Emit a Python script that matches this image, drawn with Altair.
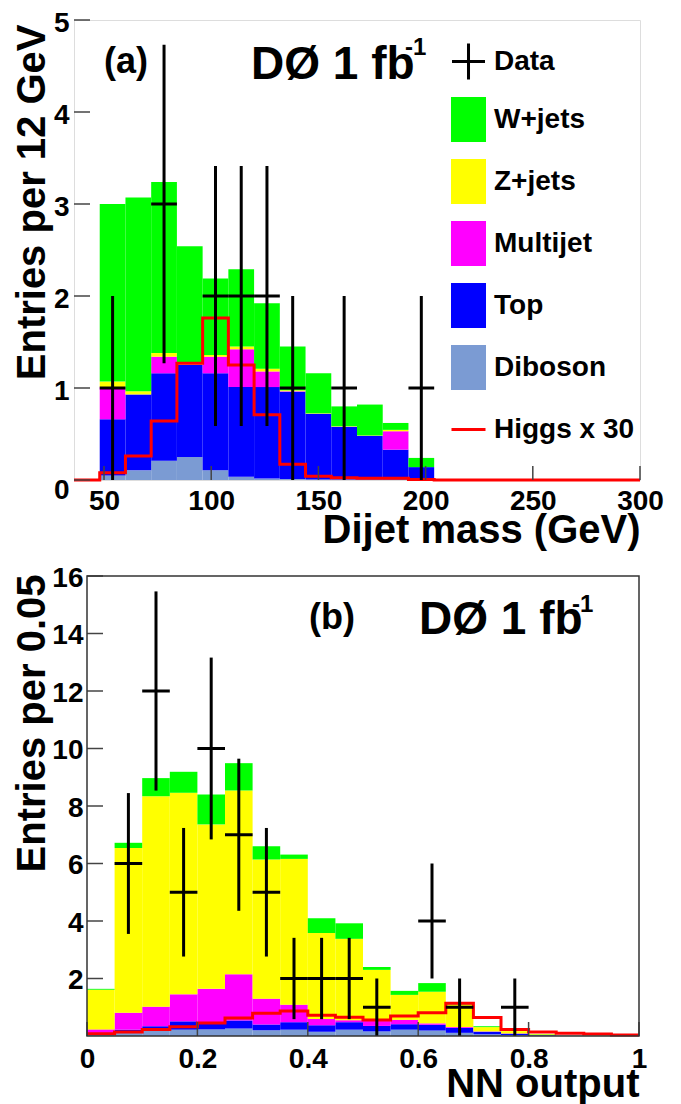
import altair as alt
import numpy as np
import pandas as pd

FONT = "Liberation Sans"

# ---------------- panel (a): dijet mass ----------------
mass_bin_lo = [48, 60, 72, 84, 96, 108, 120, 132, 144, 156, 168, 180, 192]
mass_bin_w = 12
diboson_a = [0.05, 0.105, 0.21, 0.25, 0.105, 0.036, 0.015, 0.01, 0.005, 0.005, 0.005, 0.005, 0.005]
top_a = [0.61, 0.825, 0.95, 1.00, 1.055, 0.974, 0.995, 0.95, 0.715, 0.575, 0.475, 0.325, 0.135]
multijet_a = [0.35, 0.0, 0.18, 0.005, 0.18, 0.41, 0.17, 0.005, 0.0, 0.0, 0.0, 0.20, 0.0]
zjets_a = [0.06, 0.035, 0.04, 0.01, 0.02, 0.03, 0.03, 0.01, 0.005, 0.005, 0.005, 0.015, 0.0]
wjets_a = [1.93, 2.105, 1.86, 1.275, 0.83, 0.84, 0.71, 0.475, 0.435, 0.215, 0.335, 0.075, 0.10]
higgs_a_lo = [36, 48, 60, 72, 84, 96, 108, 120, 132, 144, 156, 168, 180, 192, 204, 216,
              228, 240, 252, 264, 276, 288]
higgs_a = [0.0, 0.08, 0.26, 0.64, 1.27, 1.76, 1.25, 0.71, 0.17, 0.04, 0.025, 0.02, 0.02,
           0.005, 0.0, 0.0, 0.0, 0.0, 0.0, 0.0, 0.0, 0.0]
data_a_x = [54, 78, 102, 114, 126, 138, 162, 198]
data_a_n = [1, 3, 2, 2, 2, 1, 1, 1]
mass_xticks = [50, 100, 150, 200, 250, 300]
mass_yticks = [0, 1, 2, 3, 4, 5]

# ---------------- panel (b): NN output ----------------
nn_bin_lo = [0.00, 0.05, 0.10, 0.15, 0.20, 0.25, 0.30, 0.35, 0.40, 0.45,
             0.50, 0.55, 0.60, 0.65, 0.70, 0.75, 0.80, 0.85, 0.90, 0.95]
nn_bin_w = 0.05
diboson_b = [0.05, 0.15, 0.20, 0.22, 0.23, 0.26, 0.20, 0.22, 0.15, 0.22,
             0.16, 0.22, 0.19, 0.11, 0.06, 0.03, 0.01, 0.0, 0.0, 0.0]
top_b = [0.04, 0.07, 0.14, 0.29, 0.22, 0.28, 0.20, 0.26, 0.22, 0.26,
         0.19, 0.19, 0.20, 0.17, 0.09, 0.05, 0.02, 0.01, 0.0, 0.0]
multijet_b = [0.14, 0.59, 0.68, 0.94, 1.19, 1.61, 0.90, 0.61, 0.22, 0.07,
              0.17, 0.15, 0.05, 0.03, 0.01, 0.01, 0.0, 0.0, 0.0, 0.0]
zjets_b = [1.38, 5.73, 7.32, 7.01, 5.72, 6.39, 4.84, 5.07, 2.99, 2.83,
           1.78, 0.87, 1.10, 0.79, 0.15, 0.08, 0.03, 0.01, 0.01, 0.0]
wjets_b = [0.03, 0.18, 0.63, 0.73, 1.04, 0.95, 0.46, 0.15, 0.52, 0.54,
           0.10, 0.14, 0.30, 0.02, 0.03, 0.0, 0.01, 0.0, 0.0, 0.0]
higgs_b = [0.08, 0.14, 0.23, 0.32, 0.45, 0.63, 0.79, 0.87, 0.72, 0.65,
           0.56, 0.70, 0.81, 1.14, 0.64, 0.23, 0.14, 0.10, 0.07, 0.035]
data_b_x = [0.075, 0.125, 0.175, 0.225, 0.275, 0.325, 0.375, 0.425, 0.475, 0.525,
            0.625, 0.675, 0.775]
data_b_n = [6, 12, 5, 10, 7, 5, 2, 2, 2, 1, 4, 1, 1]
nn_xticks = [0, 0.2, 0.4, 0.6, 0.8, 1.0]
nn_yticks = [2, 4, 6, 8, 10, 12, 14, 16]

# ---------------- styles ----------------
procs = ["Diboson", "Top", "Multijet", "Z+jets", "W+jets"]  # stacking order, bottom first
proc_colors = ["#7b9bd3", "#0000ff", "#ff00ff", "#ffff00", "#00ff00"]
legend_labels = ["Data", "W+jets", "Z+jets", "Multijet", "Top", "Diboson", "Higgs x 30"]
legend_colors = ["#000000", "#00ff00", "#ffff00", "#ff00ff", "#0000ff", "#7b9bd3", "#ff0000"]
CROSS = ("M-0.733,-0.067H-0.067V-0.8H0.067V-0.067H0.733V0.067H0.067V0.8H-0.067"
         "V0.067H-0.733Z")
BOX = "M-0.778,-1H0.778V1H-0.778Z"
LINE = "M-0.756,-0.067H0.756V0.067H-0.756Z"
legend_shapes = [CROSS, BOX, BOX, BOX, BOX, BOX, LINE]
FRAME = "#333333"
TICK = "#444444"


def stack_frame(lo, w, comps):
    base = np.zeros(len(lo))
    rows = []
    for name, vals in comps:
        v = np.asarray(vals, dtype=float)
        for i in range(len(lo)):
            if v[i] > 0:
                rows.append({"x0": lo[i], "x1": lo[i] + w, "y0": base[i],
                             "y1": base[i] + v[i], "proc": name})
        base = base + v
    return pd.DataFrame(rows)


def step_frame(lo, w, vals):
    xs = list(lo) + [lo[-1] + w]
    ys = list(vals) + [vals[-1]]
    return pd.DataFrame({"x": xs, "y": ys})


def data_frame(xc, n, w):
    n = np.asarray(n, dtype=float)
    xc = np.asarray(xc, dtype=float)
    return pd.DataFrame({"c": xc, "n": n, "lo": np.maximum(n - np.sqrt(n), 0),
                         "hi": n + np.sqrt(n), "xl": xc - w / 2, "xr": xc + w / 2})


def panel(W, H, xdom, ydom, comps, lo, w, higgs_lo, higgs, dx, dn, xticks, yticks,
          xaxis, yaxis, texts, legend=None, inset=0):
    xs = alt.Scale(domain=xdom, nice=False, zero=False)
    ys = alt.Scale(domain=ydom, nice=False, zero=False)
    stacks = stack_frame(lo, w, comps)
    bars = alt.Chart(stacks).mark_rect().encode(
        x=alt.X("x0:Q", scale=xs, axis=xaxis), x2="x1:Q",
        y=alt.Y("y0:Q", scale=ys, axis=yaxis), y2="y1:Q",
        fill=alt.Fill("proc:N", scale=alt.Scale(domain=procs, range=proc_colors), legend=None),
    )
    hig = alt.Chart(step_frame(higgs_lo, w, higgs)).mark_line(
        interpolate="step-after", color="#ff0000", strokeWidth=3
    ).encode(x=alt.X("x:Q", scale=xs, axis=xaxis), y=alt.Y("y:Q", scale=ys, axis=yaxis))
    dd = data_frame(dx, dn, w)
    vbar = alt.Chart(dd).mark_rule(color="black", strokeWidth=3).encode(
        x=alt.X("c:Q", scale=xs, axis=xaxis),
        y=alt.Y("lo:Q", scale=ys, axis=yaxis), y2="hi:Q")
    hbar = alt.Chart(dd).mark_rule(color="black", strokeWidth=3).encode(
        x=alt.X("xl:Q", scale=xs, axis=xaxis), x2="xr:Q",
        y=alt.Y("n:Q", scale=ys, axis=yaxis))
    ytk = alt.Chart(pd.DataFrame({"v": yticks})).mark_rule(color=TICK, strokeWidth=1.5).encode(
        y=alt.Y("v:Q", scale=ys, axis=yaxis), x=alt.value(inset), x2=alt.value(inset + 16))
    xtk = alt.Chart(pd.DataFrame({"v": xticks})).mark_rule(color=TICK, strokeWidth=1.5).encode(
        x=alt.X("v:Q", scale=xs, axis=xaxis), y=alt.value(H), y2=alt.value(H - 14))
    layers = [bars, hig, xtk, ytk, vbar, hbar]
    for (t, px, py, size, base) in texts:
        layers.append(alt.Chart(pd.DataFrame({"t": [t]})).mark_text(
            font=FONT, fontWeight="bold", fontSize=size, align="left", baseline=base,
            color="black").encode(text="t:N", x=alt.value(px), y=alt.value(py)))
    if legend is not None:
        layers.append(legend)
    props = dict(width=W, height=H)
    if inset:
        frame = alt.Chart(pd.DataFrame({"f": [0]})).mark_rect(
            fillOpacity=0, stroke=FRAME, strokeWidth=1.5
        ).encode(x=alt.value(inset), x2=alt.value(W), y=alt.value(0), y2=alt.value(H))
        layers.append(frame)
        props["view"] = alt.ViewBackground(stroke=None)
    return alt.layer(*layers).properties(**props)


def axis(values, title, fmt, **kw):
    common = dict(values=values, ticks=False, tickSize=0, domain=False, grid=False,
                  labelFont=FONT, labelFontSize=28, labelFontWeight="bold", labelColor="black",
                  labelFlush=False, labelOverlap=False, format=fmt,
                  title=title, titleFont=FONT, titleFontSize=40, titleFontWeight="bold",
                  titleColor="black", titleAlign="right")
    common.update(kw)
    return alt.Axis(**common)


legend_kw = dict(orient="none", legendX=372, legendY=19, title=None, direction="vertical",
                 labelFont=FONT, labelFontSize=28, labelFontWeight="bold", labelColor="black",
                 symbolSize=2025, symbolOpacity=1, symbolStrokeWidth=0, rowPadding=17,
                 labelOffset=3, padding=0, labelLimit=400)

# ---- panel (a) ----
WA, HA = 566, 460
xa_axis = axis(mass_xticks, "Dijet mass (GeV)", "d", labelPadding=7,
               titleBaseline="alphabetic", titleX=WA, titleY=62)
ya_axis = axis(mass_yticks, "Entries per 12 GeV", "d", labelPadding=5,
               labelOffset={"condition": {"test": "datum.value == 0", "value": 10}, "value": 3},
               titleAngle=270, titleBaseline="middle", titleX=-42, titleY=4)

legend_layer = alt.Chart(pd.DataFrame({"lab": legend_labels})).mark_point(
    filled=True, opacity=0
).encode(
    color=alt.Color("lab:N", scale=alt.Scale(domain=legend_labels, range=legend_colors),
                    legend=alt.Legend(**legend_kw)),
    shape=alt.Shape("lab:N", scale=alt.Scale(domain=legend_labels, range=legend_shapes),
                    legend=alt.Legend(**legend_kw)),
)

texts_a = [("(a)", 30, 42, 36, "middle"), ("DØ 1 fb", 177, 59, 46, "alphabetic"),
           ("-1", 331, 35, 24, "alphabetic")]

comps_a = list(zip(procs, [diboson_a, top_a, multijet_a, zjets_a, wjets_a]))
chart_a = panel(WA, HA, [36, 300], [0, 5], comps_a, mass_bin_lo, mass_bin_w,
                higgs_a_lo, higgs_a, data_a_x, data_a_n, mass_xticks, mass_yticks,
                xa_axis, ya_axis, texts_a, legend=legend_layer)

# ---- panel (b) ----
# panel (b)'s frame starts 13 px right of panel (a)'s; the view is widened to the
# left by that inset and the y axis is moved in by the same amount.
INSET = 13
WB_FRAME = 552
WB, HB = WB_FRAME + INSET, 460
nn_lo_dom = -INSET / WB_FRAME
xb_axis = axis(nn_xticks, "NN output", "~g", labelPadding=9,
               titleBaseline="alphabetic", titleX=WB, titleY=60)
yb_axis = axis(nn_yticks, "Entries per 0.05", "d", labelPadding=4, labelOffset=2,
               offset=-INSET,
               titleAngle=270, titleBaseline="middle", titleX=-55, titleY=-2)
texts_b = [("(b)", 222 + INSET, 42, 36, "middle"), ("DØ 1 fb", 332 + INSET, 58, 46, "alphabetic"),
           ("-1", 485 + INSET, 36, 24, "alphabetic")]
comps_b = list(zip(procs, [diboson_b, top_b, multijet_b, zjets_b, wjets_b]))
chart_b = panel(WB, HB, [nn_lo_dom, 1], [0, 16], comps_b, nn_bin_lo, nn_bin_w,
                nn_bin_lo, higgs_b, data_b_x, data_b_n, nn_xticks, nn_yticks,
                xb_axis, yb_axis, texts_b, inset=INSET)

chart = alt.concat(chart_a, chart_b, columns=1, spacing=13, align="none").resolve_scale(
    fill="independent", color="independent", shape="independent"
).properties(
    padding={"left": 3, "top": 0, "right": 0, "bottom": 0}, background="white"
).configure_view(stroke=FRAME, strokeWidth=1.5).configure(font=FONT)

chart.save("out.html", embed_options={"renderer": "svg", "actions": False})
